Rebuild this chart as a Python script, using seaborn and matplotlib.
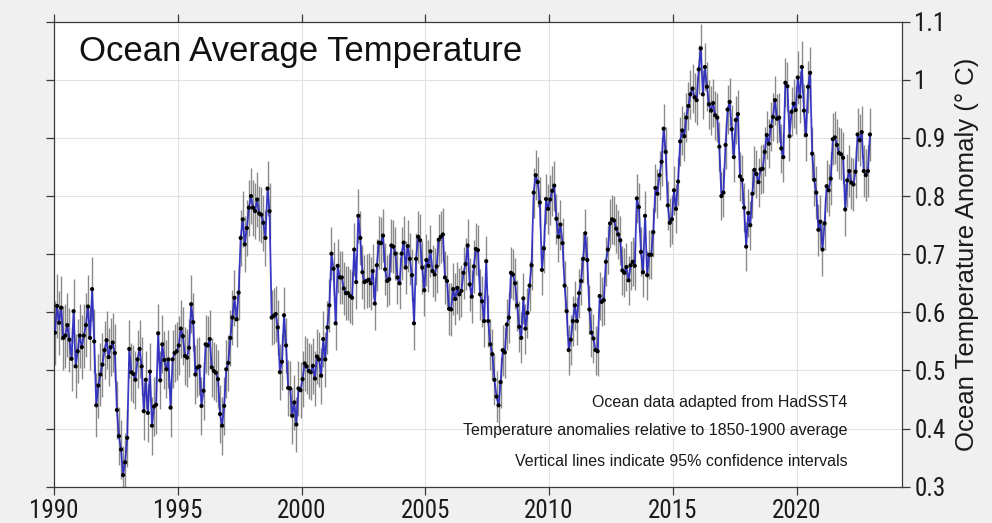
import numpy as np
import pandas as pd
import matplotlib
matplotlib.use("Agg")
import matplotlib.pyplot as plt
from matplotlib.ticker import FuncFormatter
import seaborn as sns

# Monthly ocean temperature anomalies (deg C, relative to 1850-1900), HadSST4
anom_jan1990 = [0.565, 0.611, 0.582, 0.608, 0.556, 0.56, 0.578, 0.553, 0.52, 0.602, 0.507, 0.533,
                0.56, 0.54, 0.56, 0.578, 0.61, 0.556, 0.64, 0.55, 0.44, 0.474, 0.493, 0.51,
                0.535, 0.552, 0.523, 0.54, 0.548, 0.53, 0.432, 0.387, 0.364, 0.32, 0.342, 0.384,
                0.537, 0.497, 0.494, 0.484, 0.519, 0.537, 0.507, 0.43]
anom_sep1993 = [0.484, 0.427, 0.498, 0.405, 0.438, 0.441, 0.564, 0.483, 0.545, 0.518,
                0.502, 0.519, 0.436, 0.519, 0.53, 0.533, 0.543, 0.572, 0.559, 0.525,
                0.522, 0.539, 0.614, 0.583, 0.493, 0.505, 0.507, 0.439, 0.465, 0.545,
                0.543, 0.554, 0.505, 0.499, 0.496, 0.485, 0.425, 0.405, 0.439, 0.502,
                0.513, 0.556, 0.591, 0.625, 0.588, 0.634, 0.728, 0.76, 0.717, 0.745,
                0.78, 0.80, 0.78, 0.774, 0.794, 0.77, 0.768, 0.754, 0.728, 0.813, 0.774]
anom_oct1998 = [0.591, 0.594, 0.597, 0.574, 0.497, 0.515, 0.595, 0.543, 0.47, 0.469,
                0.422, 0.445, 0.407, 0.469, 0.466, 0.485, 0.512, 0.507, 0.499, 0.497,
                0.508, 0.486, 0.524, 0.519, 0.491, 0.554, 0.519, 0.574, 0.612, 0.701,
                0.675, 0.581, 0.68, 0.66, 0.66, 0.641, 0.633, 0.633, 0.628, 0.625,
                0.708, 0.652, 0.766, 0.728, 0.669, 0.652, 0.654, 0.656, 0.65, 0.671,
                0.615, 0.681, 0.72]
anom_mar2003 = [0.719, 0.732, 0.674, 0.654, 0.657, 0.715, 0.713, 0.701, 0.66, 0.65,
                0.701, 0.72, 0.677, 0.714, 0.692, 0.664, 0.581, 0.692, 0.73, 0.724,
                0.677, 0.638, 0.69, 0.68, 0.705, 0.671, 0.665, 0.679, 0.725, 0.73,
                0.734, 0.66, 0.654, 0.606, 0.605, 0.64, 0.623, 0.642, 0.631, 0.637,
                0.668, 0.683, 0.715, 0.648, 0.627, 0.679, 0.709, 0.707, 0.631, 0.619,
                0.585, 0.688]
anom_jul2007 = [0.585, 0.545, 0.528, 0.484, 0.455, 0.44, 0.48, 0.535, 0.531, 0.579,
                0.591, 0.668, 0.665, 0.65, 0.612, 0.575, 0.556, 0.624, 0.572, 0.599,
                0.646, 0.681, 0.806, 0.836, 0.824, 0.789, 0.673, 0.71, 0.795, 0.778,
                0.794, 0.809, 0.818, 0.761, 0.73, 0.751, 0.719, 0.646, 0.602, 0.535,
                0.553, 0.585, 0.612, 0.585, 0.633, 0.654, 0.692, 0.736, 0.69, 0.605,
                0.565, 0.555]
anom_nov2011 = [0.535, 0.533, 0.628, 0.618, 0.621, 0.687, 0.708, 0.753, 0.76, 0.758,
                0.744, 0.734, 0.724, 0.672, 0.668, 0.678, 0.655, 0.681, 0.687, 0.68,
                0.796, 0.781, 0.704, 0.669, 0.766, 0.664, 0.699, 0.699, 0.738, 0.814,
                0.804, 0.836, 0.859, 0.916, 0.876, 0.784, 0.754, 0.76, 0.81, 0.778,
                0.825, 0.894, 0.913, 0.903, 0.935, 0.955, 0.975, 0.985]
anom_nov2015 = [0.97, 0.965, 1.018, 1.054, 0.975, 1.022, 0.988, 0.958, 0.947, 0.96,
                0.939, 0.935, 0.885, 0.8, 0.806, 0.888, 0.949, 0.962, 0.915, 0.867,
                0.931, 0.941, 0.834, 0.828, 0.78, 0.713, 0.771, 0.75, 0.804, 0.845,
                0.838, 0.824, 0.846, 0.847, 0.876, 0.905, 0.89, 0.92, 0.936, 0.965,
                0.933, 0.935, 0.882, 0.867, 0.995, 0.989, 0.903, 0.945, 0.959, 0.948,
                1.004, 0.971]
anom_mar2020 = [1.022, 0.947, 0.905, 0.988, 1.012, 0.873, 0.828, 0.806, 0.742, 0.756,
                0.708, 0.753, 0.817, 0.81, 0.83, 0.898, 0.901, 0.888, 0.874, 0.872,
                0.866, 0.777, 0.827, 0.843, 0.823, 0.82, 0.842, 0.906, 0.896, 0.91,
                0.843, 0.836, 0.843, 0.906]

# Half-width of the 95% confidence interval for each year 1990-2022
ci_half_width = [0.055, 0.055, 0.05, 0.05, 0.05, 0.05, 0.05, 0.048, 0.048, 0.048,
                 0.048, 0.046, 0.046, 0.045, 0.045, 0.045, 0.045, 0.044, 0.044, 0.043,
                 0.043, 0.042, 0.042, 0.042, 0.042, 0.042, 0.042, 0.042, 0.042, 0.042,
                 0.045, 0.045, 0.045]

x_ticks = [1990, 1995, 2000, 2005, 2010, 2015, 2020]
y_ticks = [0.3, 0.4, 0.5, 0.6, 0.7, 0.8, 0.9, 1.0, 1.1]

title_text = "Ocean Average Temperature"
y_label = "Ocean Temperature Anomaly (\u00b0 C)"
notes = ["Ocean data adapted from HadSST4",
         "Temperature anomalies relative to 1850-1900 average",
         "Vertical lines indicate 95% confidence intervals"]

values = np.concatenate([anom_jan1990, anom_sep1993, anom_oct1998, anom_mar2003,
                         anom_jul2007, anom_nov2011, anom_nov2015, anom_mar2020])
months = np.arange(len(values))
half = np.asarray(ci_half_width)[months // 12]
df = pd.DataFrame({
    "year": 1990 + (months + 0.5) / 12.0,
    "anomaly": values,
    "low": values - half,
    "high": values + half,
})

sns.set_theme(style="white")
plt.rcParams["font.family"] = ["Liberation Sans", "DejaVu Sans"]
plt.rcParams["axes.unicode_minus"] = False
tick_family = ["Roboto Condensed", "Liberation Sans", "DejaVu Sans"]

fig = plt.figure(figsize=(9.92, 5.23), dpi=100, facecolor="#f0f0f0")
ax = fig.add_axes([0.0544, 0.0694, 0.8548, 0.8891])
ax.set_facecolor("white")

# 95% confidence intervals as thin vertical lines
ax.vlines(df["year"], df["low"], df["high"], color="#8a8a8a", lw=1.0, zorder=2)
sns.lineplot(data=df, x="year", y="anomaly", ax=ax, color="#2626c0", lw=1.3,
             alpha=0.9, zorder=3)
sns.scatterplot(data=df, x="year", y="anomaly", ax=ax, color="black", s=9,
                edgecolor="none", zorder=4)

ax.set_xlim(1990, 2024.25)
ax.set_ylim(0.3, 1.1)
ax.set_xticks(x_ticks)
ax.set_yticks(y_ticks)
ax.yaxis.set_major_formatter(FuncFormatter(lambda v, p: f"{v:g}"))
ax.grid(True, color="#e2e2e2", lw=0.8)
ax.set_axisbelow(True)

for s in ax.spines.values():
    s.set_color("#3a3a3a")
    s.set_linewidth(0.9)

ax.tick_params(axis="both", direction="out", length=6, width=0.9, color="#3a3a3a",
               labelsize=18, labelcolor="#1a1a1a", pad=3)
ax.tick_params(axis="x", bottom=True, top=True, labelbottom=True, labeltop=False)
ax.tick_params(axis="y", left=True, right=True, labelleft=False, labelright=True)
for lab in ax.get_xticklabels() + ax.get_yticklabels():
    lab.set_family(tick_family)

ax.set_xlabel("")
ax.yaxis.set_label_position("right")
ax.set_ylabel(y_label, fontsize=18.5, color="#1a1a1a", labelpad=7)

ax.text(0.0295, 0.935, title_text, transform=ax.transAxes, fontsize=25,
        ha="left", va="center", color="#111111")

for yy, note in zip([0.182, 0.12, 0.055], notes):
    ax.text(0.936, yy, note, transform=ax.transAxes, fontsize=11.5, ha="right",
            va="center", color="#1a1a1a")

fig.savefig("out.png", dpi=100, facecolor=fig.get_facecolor())
